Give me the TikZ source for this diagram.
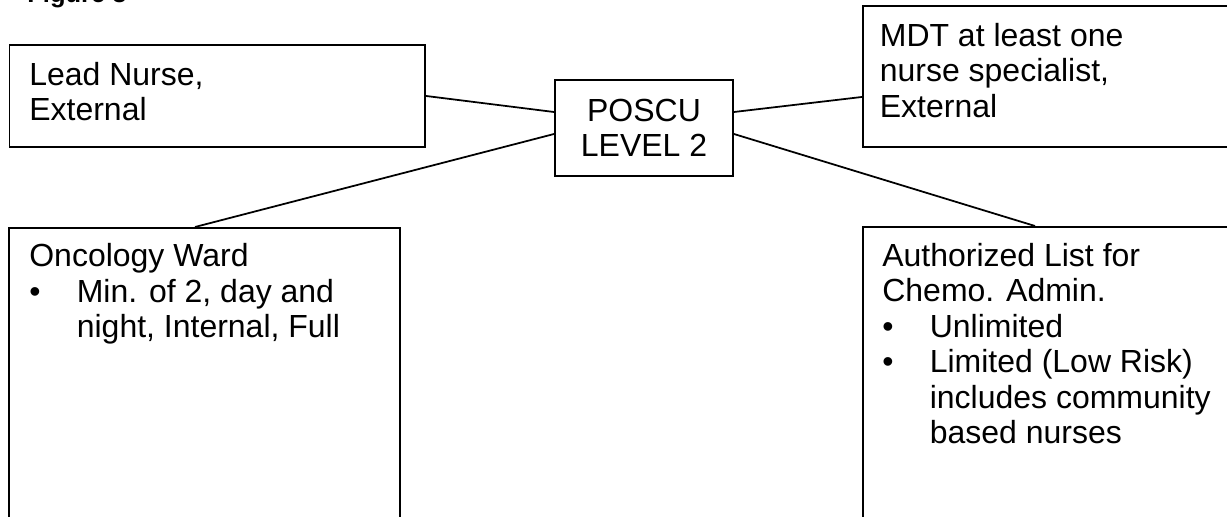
\documentclass[tikz,border=0pt]{standalone}
\usepackage{fontspec}
\setmainfont{Liberation Sans}
\usepackage{tikz}

\newcommand{\blt}{\makebox[0.95cm][l]{\textbullet}}
\newcommand{\ind}{\hspace*{0.95cm}}

\begin{document}
\begin{tikzpicture}[
        box/.style = {draw, line width=1.1pt, rectangle, anchor=north west, inner sep=0pt},
        txt/.style = {anchor=base west, align=left, inner sep=0pt, font=\fontsize{18.2}{20.2}\selectfont},
        conn/.style = {line width=1pt}
    ]

                \useasboundingbox (0,0) rectangle (24.54,-10.34);

                \node[anchor=base west, inner sep=0pt, font=\bfseries\fontsize{14.5}{17}\selectfont] (fig) at (0.54,-0.06) {Figure 3};

                \node[box, minimum width=8.31cm, minimum height=2.04cm] (lead) at (0.17,-0.88) {};
                \node[txt] (leadtxt) at ([shift={(0.41,-1.53)}]lead.north west) {Lead Nurse,\\ External};

                \node[box, anchor=center, align=center, inner sep=0pt, minimum width=3.56cm, minimum height=1.92cm,
                      font=\fontsize{18.2}{20.2}\selectfont] (poscu) at (12.88,-2.56) {POSCU\\ LEVEL 2};

                \node[box, minimum width=7.76cm, minimum height=2.82cm] (mdt) at (17.24,-0.10) {};
                \node[txt] (mdttxt) at ([shift={(0.35,-2.25)}]mdt.north west) {MDT at least one\\ nurse specialist,\\ External};

                \node[box, minimum width=7.82cm, minimum height=6.3cm] (ward) at (0.16,-4.54) {};
                \node[txt] (wardtxt) at ([shift={(0.42,-2.21)}]ward.north west)
                    {Oncology Ward\\ \blt Min. of 2, day and\\ \ind night, Internal, Full};

                \node[box, minimum width=7.76cm, minimum height=6.3cm] (auth) at (17.24,-4.52) {};
                \node[txt] (authtxt) at ([shift={(0.40,-4.35)}]auth.north west)
                    {Authorized List for\\ Chemo. Admin.\\ \blt Unlimited\\ \blt Limited (Low Risk)\\ \ind includes community\\ \ind based nurses};

                \draw[conn] (lead.east) -- ([yshift=0.32cm]poscu.west);
                \draw[conn] ([yshift=-0.12cm]poscu.west) -- ([xshift=3.74cm]ward.north west);
                \draw[conn] ([yshift=0.32cm]poscu.east) -- ([yshift=-0.41cm]mdt.west);
                \draw[conn] ([yshift=-0.12cm]poscu.east) -- ([xshift=3.46cm]auth.north west);

\end{tikzpicture}
\end{document}
